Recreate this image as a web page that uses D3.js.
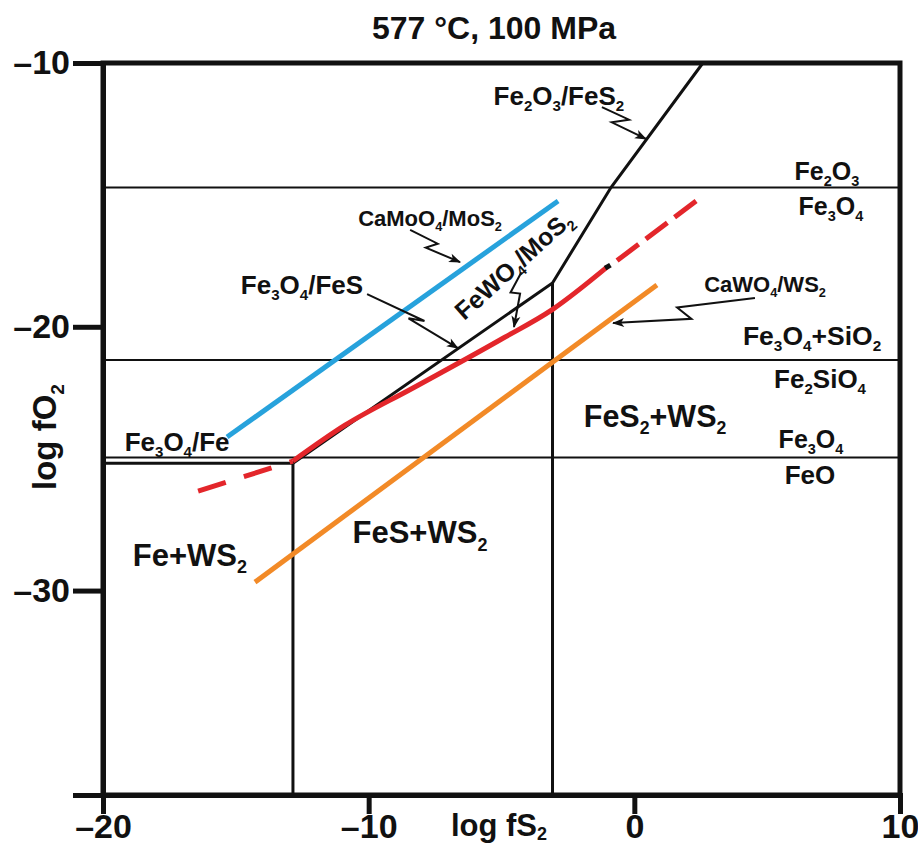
<!DOCTYPE html>
<html>
<head>
<meta charset="utf-8">
<script src="https://cdn.jsdelivr.net/npm/d3@7"></script>
<style>
  body { margin: 0; background: #fff; }
  text { font-family: "Liberation Sans", Arial, Helvetica, sans-serif; font-weight: bold; fill: #111; }
</style>
</head>
<body>
<svg id="chart" width="918" height="847"></svg>
<script>
// axes
const xDomain = [-20, 10],
    yDomain = [-10, -37.75],
    xTicks = [-20, -10, 0, 10],
    yTicks = [-10, -20, -30];

// oxide buffers (horizontal, log fO2)
const bufferFO2 = [-14.72, -21.26, -24.96];

// sulfide / oxide boundaries  [log fS2, log fO2]
const fe3o4Fe = [[-20, -25.17], [-12.85, -25.17]],
    feFeS = [[-12.85, -25.17], [-12.85, -37.75]],
    fesFeS2 = [[-3.08, -18.34], [-3.08, -37.75]],
    oxideSulfide = [[-12.85, -25.17], [-3.08, -18.34], [-0.88, -14.72], [2.58, -10]];

// mineral equilibria
const camoo4Line = [[-15.33, -24.18], [-2.87, -15.23]],
    cawo4Line = [[-14.28, -29.68], [0.85, -18.42]],
    fewo4Solid = [[-12.85, -25.09], [-10.89, -23.73], [-8.33, -22.32], [-5.06, -20.50], [-3.06, -19.33], [-1.03, -17.74]],
    fewo4Tip = [[-1.10, -17.78], [-0.90, -17.66]],
    fewo4DashHi = [[-0.65, -17.49], [2.47, -15.12]],
    fewo4DashLo = [[-16.42, -26.23], [-12.85, -25.09]];

// labels: text (_n = subscript), log fS2, log fO2, size, angle
const labels = [
    ["Fe_2O_3/FeS_2", -2.84, -11.59, 26, 0],
    ["Fe_2O_3", 7.25, -14.44, 25, 0],
    ["Fe_3O_4", 7.40, -15.76, 25, 0],
    ["CaMoO_4/MoS_2", -7.69, -16.18, 22, 0],
    ["Fe_3O_4/FeS", -12.51, -18.76, 26, 0],
    ["FeWO_4/MoS_2", -4.55, -17.66, 25, -42],
    ["CaWO_4/WS_2", 4.92, -18.68, 22, 0],
    ["Fe_3O_4+SiO_2", 6.69, -20.69, 26.5, 0],
    ["Fe_2SiO_4", 6.99, -22.32, 26, 0],
    ["FeS_2+WS_2", 0.78, -23.80, 30.5, 0],
    ["Fe_3O_4", 6.65, -24.60, 25, 0],
    ["FeO", 6.61, -25.97, 26, 0],
    ["Fe_3O_4/Fe", -17.21, -24.71, 26, 0],
    ["Fe+WS_2", -16.73, -29.07, 31, 0],
    ["FeS+WS_2", -8.07, -28.20, 31, 0]
];

// leader arrows (zigzag)
const arrows = [
    [[-1.22, -11.67], [-0.20, -12.15], [-0.85, -12.25], [0.44, -12.88]],
    [[-8.44, -16.33], [-7.40, -16.85], [-7.85, -17.00], [-6.56, -17.55]],
    [[-10.06, -18.76], [-7.90, -19.78], [-8.50, -19.68], [-6.64, -20.81]],
    [[-4.25, -17.93], [-4.66, -18.70], [-4.30, -18.74], [-4.53, -20.01]],
    [[4.54, -18.91], [1.61, -19.27], [2.15, -19.70], [-0.80, -19.86]]
];

const svg = d3.select("#chart"),
    margin = {left: 103, right: 18, top: 63, bottom: 52},
    W = 918, H = 847;

const x = d3.scaleLinear().domain(xDomain).range([margin.left, W - margin.right]),
    y = d3.scaleLinear().domain(yDomain).range([margin.top, H - margin.bottom]);

const line = d3.line().x(d => x(d[0])).y(d => y(d[1]));
const minus = d => d < 0 ? "\u2013" + Math.abs(d) : String(d);

function richText(sel, str, size, drop) {
    // split "Fe_2O_3" into normal and subscript parts
    const parts = str.split(/(_\d)/).filter(s => s.length),
        shift = size * (drop || 0.24);
    let shifted = false;
    parts.forEach(p => {
        const t = sel.append("tspan");
        if (p[0] === "_") {
            t.text(p.slice(1)).attr("font-size", size * 0.58).attr("dy", shifted ? 0 : shift);
            shifted = true;
        } else {
            t.text(p);
            if (shifted) { t.attr("dy", -shift); shifted = false; }
        }
    });
}

svg.append("defs").append("marker")
    .attr("id", "head")
    .attr("viewBox", "0 0 12 10")
    .attr("refX", 11).attr("refY", 5)
    .attr("markerWidth", 13).attr("markerHeight", 10)
    .attr("markerUnits", "userSpaceOnUse")
    .attr("orient", "auto")
  .append("path").attr("d", "M0,0.5L12,5L0,9.5L3,5Z").attr("fill", "#111");

// thin buffer lines
svg.append("g").selectAll("line").data(bufferFO2).join("line")
    .attr("x1", x(xDomain[0])).attr("x2", x(xDomain[1]))
    .attr("y1", y).attr("y2", y)
    .attr("stroke", "#111").attr("stroke-width", 2);

// phase boundaries
[fe3o4Fe, feFeS, fesFeS2, oxideSulfide].forEach(d => {
    svg.append("path").attr("d", line(d))
        .attr("fill", "none").attr("stroke", "#111")
        .attr("stroke-width", 3).attr("stroke-linejoin", "miter");
});

svg.append("path").attr("d", line(camoo4Line))
    .attr("fill", "none").attr("stroke", "#27a2dc").attr("stroke-width", 5);
svg.append("path").attr("d", line(cawo4Line))
    .attr("fill", "none").attr("stroke", "#f28a27").attr("stroke-width", 5);
svg.append("path").attr("d", line.curve(d3.curveMonotoneX)(fewo4Solid))
    .attr("fill", "none").attr("stroke", "#e3262b").attr("stroke-width", 5);
line.curve(d3.curveLinear);
svg.append("path").attr("d", line(fewo4DashLo))
    .attr("fill", "none").attr("stroke", "#e3262b").attr("stroke-width", 5)
    .attr("stroke-dasharray", "29,19");
svg.append("path").attr("d", line(fewo4DashHi))
    .attr("fill", "none").attr("stroke", "#e3262b").attr("stroke-width", 5)
    .attr("stroke-dasharray", "27,9");
svg.append("path").attr("d", line(fewo4Tip))
    .attr("fill", "none").attr("stroke", "#111").attr("stroke-width", 5);

// arrows
svg.append("g").selectAll("path").data(arrows).join("path")
    .attr("d", line)
    .attr("fill", "none").attr("stroke", "#111").attr("stroke-width", 2)
    .attr("stroke-linejoin", "miter")
    .attr("marker-end", "url(#head)");

// frame
svg.append("rect")
    .attr("x", x(xDomain[0])).attr("y", y(yDomain[0]))
    .attr("width", x(xDomain[1]) - x(xDomain[0]))
    .attr("height", y(yDomain[1]) - y(yDomain[0]))
    .attr("fill", "none").attr("stroke", "#111").attr("stroke-width", 5);

// axes
const xAxis = svg.append("g")
    .attr("transform", "translate(0," + y(yDomain[1]) + ")")
    .call(d3.axisBottom(x).tickValues(xTicks).tickSize(19).tickFormat(minus));
const yAxis = svg.append("g")
    .attr("transform", "translate(" + x(xDomain[0]) + ",0)")
    .call(d3.axisLeft(y).tickValues(yTicks).tickSize(30).tickPadding(3).tickFormat(minus));

[xAxis, yAxis].forEach(g => {
    g.select(".domain").attr("stroke", "#111").attr("stroke-width", 5);
    g.selectAll(".tick line").attr("stroke", "#111").attr("stroke-width", 5);
    g.selectAll(".tick text").attr("font-size", 34)
        .attr("font-family", "'Liberation Sans', Arial, sans-serif")
        .attr("font-weight", "bold").attr("fill", "#111");
});
xAxis.selectAll(".tick text").attr("y", 43).attr("dy", 0);

// axis titles
const xt = svg.append("text").attr("x", 499).attr("y", 836)
    .attr("text-anchor", "middle").attr("font-size", 31);
richText(xt, "log fS_2", 31, 0.12);
const yt = svg.append("text").attr("transform", "translate(56,437) rotate(-90)")
    .attr("text-anchor", "middle").attr("font-size", 33);
richText(yt, "log fO_2", 33);

svg.append("text").attr("x", 494).attr("y", 39)
    .attr("text-anchor", "middle").attr("font-size", 32)
    .text("577 \u00b0C, 100 MPa");

// labels
labels.forEach(([s, fs, fo, size, ang]) => {
    const t = svg.append("text")
        .attr("transform", "translate(" + x(fs) + "," + y(fo) + ") rotate(" + ang + ")")
        .attr("text-anchor", "middle")
        .attr("font-size", size)
        .attr("dy", ang ? "0.35em" : 0);
    richText(t, s, size);
});
</script>
</body>
</html>
